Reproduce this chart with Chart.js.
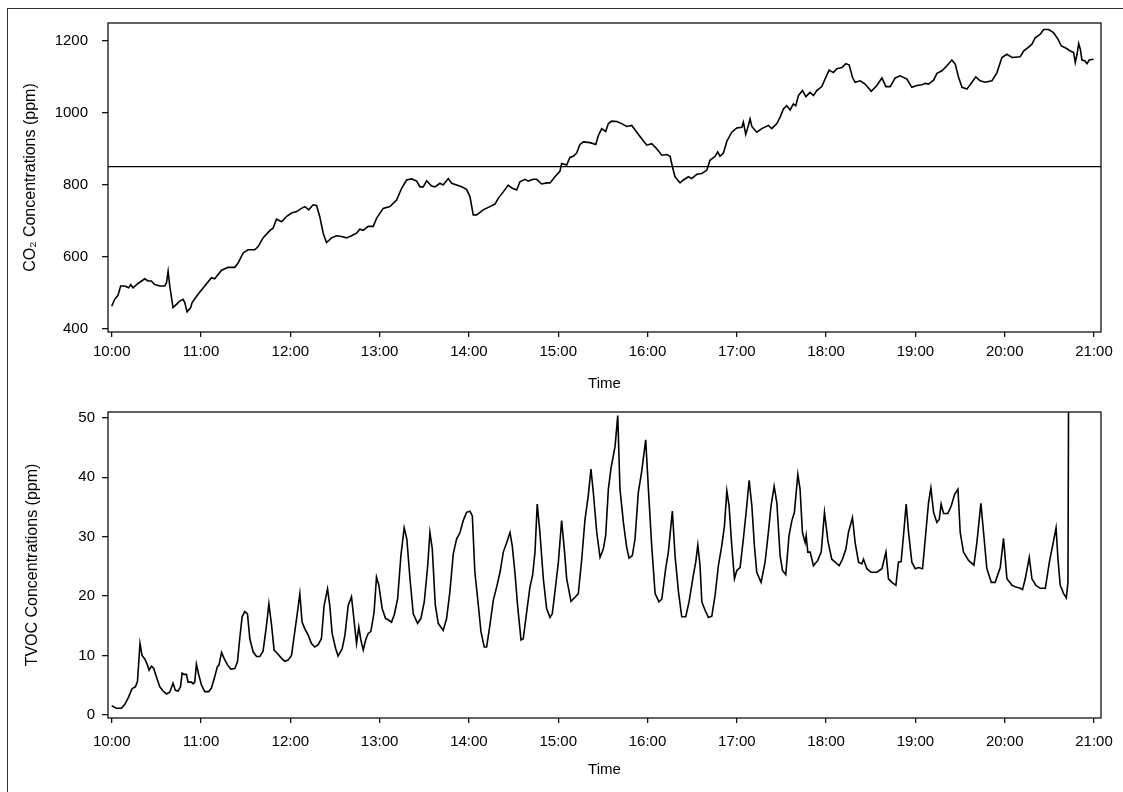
<!DOCTYPE html>
<html><head><meta charset="utf-8">
<script src="https://cdn.jsdelivr.net/npm/chart.js@4.4.1/dist/chart.umd.min.js"></script>
<style>
html,body{margin:0;padding:0;background:#fff;width:1123px;height:792px;overflow:hidden;}
#frame{position:absolute;left:7px;top:8px;width:1140px;height:800px;border-left:1px solid #333;border-top:1px solid #333;}
canvas{position:absolute;left:0;}
#c1{top:0px}
#c2{top:396px}
</style></head><body>
<div id="frame"></div>
<canvas id="c1" width="1123" height="396"></canvas>
<canvas id="c2" width="1123" height="396"></canvas>
<script>
// ---- data (minutes after 10:00) ----
const timeTickLabels = ['10:00','11:00','12:00','13:00','14:00','15:00','16:00','17:00','18:00','19:00','20:00','21:00'];
const co2TickValues = [400,600,800,1000,1200];
const tvocTickValues = [0,10,20,30,40,50];
const co2Threshold = 850;

const co2Minutes = [0,2,4.2,6,8.7,11.4,12.8,14.3,17.7,22.2,24.4,26.6,28.9,32.3,35.6,36.8,37.9,39,41.2,43.5,45.7,47.9,49.1,50.6,53.1,54,58,62.5,67,69.2,73.8,78.2,82.7,84.9,88.3,91.6,96.1,98.4,101.7,106.2,108.4,110.7,114.1,117.4,120.8,124.2,127.5,129.8,132.4,135.3,137.6,139.8,142.1,144.3,147.7,151.1,154.4,157.8,161.1,164.5,166.7,169,172.3,175.7,178,182.4,186.9,191.4,194.8,198.1,201.5,204.9,207.1,209.3,211.6,214.9,
217.2,220.5,222.7,226.1,228.4,231.7,235.1,238.4,240.7,242.9,245.2,249.6,254.1,257.5,259.7,263.1,266.4,269.1,272.1,274.3,277.7,279.9,283.2,285.5,288.9,292.2,294.5,297.8,301.2,302.3,305.7,307.9,310.1,312.4,314.6,316.9,321.4,325.2,327,329.2,331.9,333.7,336,339.3,342.7,346,349.4,352.8,356.1,359.5,362.8,366.2,369.6,372.9,375.2,376.7,378.5,381.9,384.1,387.5,389.7,393.1,396.4,399.8,402,405.4,407.2,408.7,411,413.3,416.6,420,423.4,424.4,426,427.8,428.9,430.1,433.4,436.8,
441.2,443.5,446.9,449.1,451.3,453.6,455.8,458,459.6,461.4,464.1,466.4,469.2,471.5,473.7,477.1,479.3,482,484.9,487.2,490.6,493.3,495.5,497.7,499.5,502.9,506.2,510.3,514.1,517.5,520.2,523.1,526.4,529.8,534.3,537.6,541,544.4,546.6,548.8,552.2,554.5,557.8,561.2,564.5,566.8,569,571.3,574.6,578,580.6,583.5,586.9,591.4,594.8,598.1,601.5,604.9,610.4,612.7,616,618.3,620.5,623.9,626.1,629.5,632.8,635.8,638,640.7,644.1,646.3,647.4,648.6,649.7,650.8,651.9,653.7,655.3,656.8,659.7];
const co2Values = [462,481,492,518,518,513,522,513,525,538,532,532,522,518,518,527,559,518,458,467,476,481,472,446,458,472,495,518,541,538,562,570,570,582,610,619,619,628,652,672,679,704,697,711,721,725,734,739,730,744,742,711,665,639,652,658,656,652,658,665,676,673,684,684,707,734,739,757,790,813,816,810,794,794,811,796,
794,804,799,817,804,799,794,787,767,716,716,730,739,746,762,780,799,790,785,808,815,810,815,815,802,805,805,822,838,859,855,876,879,888,912,919,917,912,937,956,948,970,977,976,970,962,965,946,928,910,914,900,882,884,879,850,822,805,813,822,817,829,831,840,868,879,891,879,888,921,946,958,960,974,940,965,983,962,946,956,
965,956,970,988,1011,1020,1008,1025,1020,1048,1062,1045,1057,1048,1062,1073,1094,1119,1112,1123,1126,1137,1133,1099,1085,1089,1080,1060,1076,1097,1073,1073,1097,1103,1094,1071,1076,1078,1082,1080,1091,1110,1117,1131,1147,1135,1099,1071,1066,1085,1100,1089,1085,1089,1112,1154,1163,1154,1156,1172,1183,1191,1209,1219,1232,1232,1223,1205,1186,1181,1172,1168,1140,1163,1193,1177,1147,1145,1137,1147,1149];

const tvocMinutes = [0,3.1,6.5,8.7,11,13.7,15.9,17.3,19,20.4,22.2,24,25.1,26.7,28.2,30,32.3,34.5,36.8,39,41.2,42.8,44.6,46.2,47.3,48.6,50.2,51.3,53.6,54.7,55.8,56.9,58.5,60.3,62.5,65.2,67,69.2,71,72.1,73.8,75.5,77.8,80,82.7,84.5,86,87.6,89.4,91.2,92.8,95,97.3,99.5,101.7,104,105.6,107.4,109.1,111.8,114.1,116.3,118.5,120.8,123,124.8,126.4,127.9,129.7,132,134.2,136.4,138.7,140.9,142.7,145,146.5,148.1,150.4,152.1,154.8,156.7,158.9,161.1,162.7,164.5,166,167.4,169,170.6,172.3,174.1,176.3,177.9,179.5,181.7,184,185.8,188,189.8,192.1,194.3,196.5,198.3,200.4,202.6,205.5,207.7,210,212.3,213.8,215.4,
217.4,219.4,222.7,225,227.2,229.5,231.7,234,236.2,238.4,240.7,242.3,244,245.9,248.1,250.3,251.9,254.1,256.4,258.6,260.9,263.1,265.4,267.6,269.1,270.9,272.7,275,276.5,278.8,281,282.8,284.4,285.9,287.7,290,292.2,294.5,296,297.8,300.1,302.3,304.1,305.7,308.6,311.3,313.5,315.8,318,320.2,322,323.6,325.9,328.1,330.3,331.9,333.7,335.5,338.2,340,341.5,343.8,346,347.6,349.8,351.6,353.8,356.1,358.8,360.6,362.8,365.1,367.7,369.6,372.2,374,376.7,378.5,380.8,383,385.7,387.9,390.8,392.4,393.8,395.3,396.5,398.7,400.9,403.2,405.4,407.6,409.9,411.7,413.3,414.8,416.6,418.4,420,422.2,424.4,426.7,428.3,430.1,431.8,433.4,436.3,439,
441.2,443,445.1,446.9,449.1,450.7,452.9,455.1,457,458.7,461,462.5,464.1,465.9,466.6,467.7,469.3,471.5,474.4,476.7,478.9,481.2,483.8,486.1,488.8,491,493.3,495,497.7,499.5,501.8,504,505.1,507.4,510.3,514.1,517.5,520.2,521.9,524.2,526.9,528.6,530.4,532,533.8,535.4,537.6,539.9,542.1,544.8,547,548.8,550.4,552.2,554.4,556,557.3,558.9,561.8,564.1,566.3,568.6,570.1,572.3,575.7,579.3,581.3,584,585.8,588,591,593.6,597,599.2,601.5,604.9,607.6,610.5,612,613.8,616.5,618.3,621,623.9,627.3,630,632.2,634.5,635.8,637.3,639.6,641.4,642.5,642.9];
const tvocValues = [1.5,1.1,1.1,1.7,2.8,4.4,4.7,5.6,12.0,10,9.4,8.4,7.5,8.2,7.8,6.4,4.7,4,3.5,3.8,5.3,4.1,4,4.7,7,6.8,6.8,5.5,5.5,5.2,5.5,8.5,6.7,5.0,3.9,3.9,4.5,6.4,8.1,8.4,10.5,9.5,8.4,7.7,7.8,8.9,12.8,16.5,17.4,17,12.8,10.6,9.8,9.8,10.7,15.1,18.7,15.1,10.9,10.2,9.5,9.0,9.2,10,14,17.3,20.4,15.6,14.5,13.4,12,11.4,11.8,12.8,18.4,21.2,18.4,13.7,11.2,9.9,11.1,13.4,18.4,19.9,16.2,12.0,14.8,12.6,10.9,12.6,13.7,14,17.3,23.2,21.8,17.9,16.2,16,15.6,16.8,19.5,26.8,31.5,29.6,22.9,17,15.4,16.2,19,25.1,30.7,27.9,
18.5,15.4,14.2,16.2,20.7,27.1,29.6,30.7,32.7,34.1,34.3,33.5,24,19.5,14,11.4,11.4,15.1,19.3,21.5,24,27.4,29,30.7,28.5,24,18.4,12.6,12.8,17.3,21.5,23.5,27.4,35.5,30.7,22.9,17.9,16.4,17,20.7,25.7,32.7,27.9,22.9,19.1,19.8,20.4,26.2,32.9,36.9,41.4,37.4,30.7,26.5,27.9,30.2,38,41.6,45.2,50.4,38,32.4,28.2,26.4,26.8,29.6,37.4,41,46.3,38,28.5,20.4,19,19.5,24.6,27.4,34.3,26.8,20.7,16.5,16.5,19,23.5,25.7,28.6,25.1,19,17.6,16.4,16.6,20.1,25.1,28.5,31.8,37.7,35.2,28.5,22.9,24.3,24.8,29.6,35.2,39.5,35.2,28.5,24,22.3,25.7,
30.7,35.2,38.5,35.7,26.8,24.3,23.6,30.2,32.7,34.1,40.5,38,30.7,29,30.2,27.4,27.4,25.1,26,27.4,34.1,29.3,26.2,25.7,25.1,26.2,27.9,30.7,33.2,29,25.7,25.4,26.2,24.6,24,24,24.6,27.4,22.9,22.3,21.8,25.7,25.8,30.2,35.5,30.7,25.7,24.6,24.8,24.6,30.7,35.7,38.2,34.1,32.4,32.9,35.5,33.9,33.9,35.2,37.1,38,30.7,27.4,26,25.2,29,35.6,30.7,24.6,22.3,22.3,24.8,29.7,22.9,21.8,21.5,21.3,21.1,22.9,26.5,22.9,21.8,21.3,21.3,25.7,28.5,31.5,26.2,21.8,20.4,19.7,22.3,53];

// ---- helpers ----
const START = 600; // 10:00 in minutes of day
const xMin = START - 2.5, xMax = START + 664.7;
const tickMinutes = timeTickLabels.map(s => { const [h,m] = s.split(':').map(Number); return h*60+m; });
const FONT = "'Liberation Sans', Arial, Helvetica, sans-serif";

const frameBox = {
  id: 'frameBox',
  afterDraw(chart) {
    const {ctx, chartArea: a} = chart;
    ctx.save();
    ctx.strokeStyle = '#111';
    ctx.lineWidth = 1.3;
    ctx.strokeRect(a.left, a.top, a.right - a.left, a.bottom - a.top);
    ctx.restore();
  }
};

function pts(xs, ys) { return xs.map((m, i) => ({x: START + m, y: ys[i]})); }

function makeChart(id, cfg) {
  return new Chart(document.getElementById(id), {
    type: 'line',
    data: { datasets: cfg.datasets },
    options: {
      responsive: false,
      animation: false,
      events: [],
      layout: { padding: { left: 0, right: 22, top: cfg.padTop, bottom: 0 } },
      plugins: { legend: { display: false }, tooltip: { enabled: false } },
      elements: { point: { radius: 0 }, line: { tension: 0 } },
      scales: {
        x: {
          type: 'linear', min: xMin, max: xMax,
          afterBuildTicks: s => { s.ticks = tickMinutes.map(v => ({value: v})); },
          afterFit: s => { s.height = cfg.xHeight; },
          ticks: {
            autoSkip: false, maxRotation: 0, padding: cfg.xTickPad, color: '#000',
            font: { family: FONT, size: 15 },
            callback: v => { const i = tickMinutes.indexOf(v); return i >= 0 ? timeTickLabels[i] : ''; }
          },
          grid: { display: true, drawOnChartArea: false, drawTicks: true, tickLength: 5, color: '#111', lineWidth: 1.3 },
          border: { display: false },
          title: { display: true, text: 'Time', color: '#000', font: { family: FONT, size: 15 }, padding: { top: 0, bottom: cfg.xTitlePad } }
        },
        y: {
          type: 'linear', min: cfg.yMin, max: cfg.yMax,
          afterBuildTicks: s => { s.ticks = cfg.yTicks.map(v => ({value: v})); },
          afterFit: s => { s.width = 108; },
          ticks: { padding: cfg.yTickPad, color: '#000', font: { family: FONT, size: 15 }, callback: v => String(v) },
          grid: { display: true, drawOnChartArea: false, drawTicks: true, tickLength: 6, color: '#111', lineWidth: 1.3 },
          border: { display: false },
          title: { display: true, text: cfg.yTitle, color: '#000', font: { family: FONT, size: 16 }, padding: { top: cfg.yTitlePad, bottom: 0 } }
        }
      }
    },
    plugins: [frameBox]
  });
}

makeChart('c1', {
  padTop: 22, xHeight: 64, xTickPad: 6, xTitlePad: 3, yTickPad: 14, yTitlePad: 21,
  yMin: 390, yMax: 1250, yTicks: co2TickValues, yTitle: 'CO\u2082 Concentrations (ppm)',
  datasets: [
    { data: pts(co2Minutes, co2Values), borderColor: '#000', borderWidth: 1.6, fill: false },
    { data: [{x: xMin, y: co2Threshold}, {x: xMax, y: co2Threshold}], borderColor: '#000', borderWidth: 1.3, fill: false }
  ]
});

makeChart('c2', {
  padTop: 15, xHeight: 74, xTickPad: 10, xTitlePad: 13, yTickPad: 7, yTitlePad: 23,
  yMin: -0.55, yMax: 51, yTicks: tvocTickValues, yTitle: 'TVOC Concentrations (ppm)',
  datasets: [
    { data: pts(tvocMinutes, tvocValues), borderColor: '#000', borderWidth: 1.6, fill: false }
  ]
});
</script></body></html>
